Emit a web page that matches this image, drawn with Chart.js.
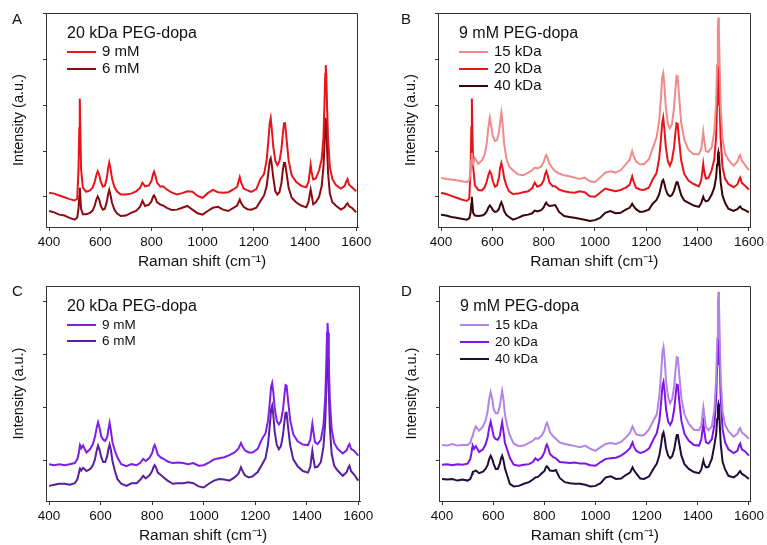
<!DOCTYPE html>
<html>
<head>
<meta charset="utf-8">
<script src="https://cdn.jsdelivr.net/npm/chart.js@4.4.1/dist/chart.umd.min.js"></script>
<style>
body { margin: 0; background: #fff; width: 767px; height: 545px; overflow: hidden; position: relative; font-family: "Liberation Sans", Arial, sans-serif; }
.panel { position: absolute; }
.letter { position: absolute; font-size: 15px; line-height: 17px; color: #111; }
</style>
</head>
<body>
<div class="panel" style="left:0;top:0"><canvas id="chartA" width="383" height="272"></canvas></div>
<div class="panel" style="left:384px;top:0"><canvas id="chartB" width="383" height="272"></canvas></div>
<div class="panel" style="left:0;top:273px"><canvas id="chartC" width="383" height="272"></canvas></div>
<div class="panel" style="left:384px;top:273px"><canvas id="chartD" width="383" height="272"></canvas></div>
<div class="letter" style="left:12px;top:10px">A</div>
<div class="letter" style="left:401px;top:10px">B</div>
<div class="letter" style="left:12px;top:282px">C</div>
<div class="letter" style="left:401px;top:282px">D</div>
<script>
// Raman shift positions (cm-1) shared by all spectra, denser around the bands
var ramanShift = [400,420,440,460,480,500,510,515,518,520,522,525,532,
  545,560,570,578,584,590,596,602,610,618,626,630,635,640,646,655,665,680,
  700,720,740,755,765,775,790,800,806,810,815,822,835,845,
  860,880,900,920,940,960,980,1000,1020,1040,1060,1080,1100,
  1120,1135,1141,1145,1150,1160,1175,1190,1210,
  1225,1240,1250,1257,1262,1266,1270,1276,1284,1292,1300,1308,1314,1318,1322,1328,1336,1348,1365,1385,
  1405,1414,1419,1422,1425,1432,1442,
  1455,1465,1472,1476,1479,1481,1483,1486,1490,1497,1507,1520,
  1540,1555,1562,1566,1572,1585,1600];

var xTicks = [400,600,800,1000,1200,1400,1600];
var yTicksAB = [0,1,2,3,4];
var yTicksCD = [0,1,2,3];

// A: 20 kDa PEG-dopa
var a9mM = [0.09,0.07,0.03,-0.01,-0.05,-0.08,-0.04,0.60,1.50,2.15,1.50,0.62,0.20,
  0.11,0.14,0.20,0.32,0.46,0.56,0.48,0.33,0.22,0.24,0.42,0.60,0.75,0.62,0.40,0.22,0.12,0.05,
  0.05,0.07,0.12,0.19,0.31,0.23,0.25,0.35,0.49,0.55,0.47,0.31,0.22,0.23,
  0.16,0.09,0.05,0.08,0.12,0.11,0.02,-0.02,0.08,0.15,0.10,0.09,0.10,
  0.16,0.22,0.35,0.43,0.32,0.18,0.14,0.11,0.17,
  0.38,0.50,0.80,1.24,1.60,1.72,1.50,1.09,0.79,0.69,0.78,1.05,1.41,1.61,1.61,1.25,0.79,0.47,0.33,0.24,
  0.21,0.33,0.56,0.70,0.56,0.38,0.40,
  0.58,0.82,1.29,2.02,2.68,2.88,2.68,2.02,1.26,0.65,0.39,0.26,
  0.18,0.24,0.35,0.39,0.27,0.20,0.12];
var a6mM = [-0.31,-0.34,-0.39,-0.41,-0.46,-0.50,-0.45,-0.26,0.01,0.20,0.01,-0.26,-0.38,
  -0.38,-0.35,-0.30,-0.20,-0.07,0.01,-0.06,-0.20,-0.28,-0.26,-0.10,0.04,0.15,0.04,-0.13,-0.28,-0.36,-0.42,
  -0.41,-0.35,-0.31,-0.22,-0.09,-0.20,-0.17,-0.10,0.00,0.03,-0.02,-0.12,-0.17,-0.19,
  -0.24,-0.29,-0.28,-0.24,-0.20,-0.28,-0.36,-0.39,-0.31,-0.24,-0.22,-0.28,-0.31,
  -0.24,-0.19,-0.11,-0.06,-0.13,-0.22,-0.27,-0.28,-0.24,
  -0.10,0.03,0.23,0.54,0.78,0.84,0.71,0.42,0.12,0.05,0.10,0.31,0.61,0.74,0.74,0.51,0.20,-0.02,-0.12,-0.19,
  -0.23,-0.10,0.07,0.16,0.07,-0.16,-0.12,
  0.00,0.23,0.64,1.14,1.59,1.73,1.59,1.09,0.52,0.07,-0.12,-0.19,
  -0.28,-0.23,-0.16,-0.14,-0.20,-0.25,-0.34];

// B: 9 mM PEG-dopa
var b15kDa = [0.42,0.39,0.38,0.36,0.34,0.32,0.36,0.58,0.80,0.96,0.80,0.72,0.85,
  0.72,0.80,0.92,1.17,1.50,1.73,1.53,1.32,1.22,1.24,1.42,1.62,1.84,1.59,1.15,0.83,0.67,0.58,
  0.49,0.47,0.53,0.58,0.64,0.62,0.66,0.76,0.87,0.91,0.85,0.73,0.62,0.56,
  0.51,0.47,0.45,0.42,0.39,0.42,0.34,0.32,0.42,0.53,0.56,0.53,0.58,
  0.71,0.81,0.93,1.00,0.90,0.77,0.71,0.71,0.82,
  1.06,1.30,1.65,2.16,2.61,2.70,2.48,1.97,1.60,1.50,1.59,1.94,2.38,2.65,2.64,2.19,1.62,1.25,1.02,0.93,
  0.93,1.04,1.27,1.42,1.27,1.00,0.98,
  1.08,1.42,2.04,2.88,3.66,3.92,3.66,2.88,1.99,1.28,0.95,0.81,
  0.68,0.77,0.88,0.91,0.80,0.70,0.58];
var b20kDa = [0.09,0.06,0.02,-0.02,-0.06,-0.09,-0.04,0.62,1.52,2.15,1.52,0.66,0.25,
  0.15,0.14,0.21,0.33,0.47,0.56,0.49,0.34,0.22,0.25,0.43,0.63,0.74,0.62,0.41,0.24,0.12,0.06,
  0.07,0.10,0.12,0.19,0.31,0.22,0.26,0.36,0.50,0.56,0.48,0.32,0.23,0.23,
  0.16,0.12,0.10,0.09,0.12,0.10,0.01,0.00,0.09,0.18,0.15,0.12,0.15,
  0.20,0.26,0.38,0.45,0.34,0.20,0.16,0.15,0.20,
  0.38,0.52,0.83,1.25,1.61,1.73,1.51,1.10,0.78,0.68,0.80,1.07,1.42,1.61,1.60,1.24,0.80,0.50,0.35,0.28,
  0.23,0.36,0.58,0.72,0.58,0.40,0.41,
  0.58,0.82,1.29,2.02,2.68,2.88,2.68,2.02,1.26,0.66,0.40,0.28,
  0.21,0.27,0.38,0.42,0.31,0.24,0.16];
var b40kDa = [-0.39,-0.41,-0.44,-0.46,-0.48,-0.50,-0.47,-0.35,-0.15,0.00,-0.15,-0.35,-0.41,
  -0.42,-0.41,-0.38,-0.32,-0.24,-0.19,-0.23,-0.29,-0.33,-0.32,-0.26,-0.18,-0.12,-0.19,-0.31,-0.40,-0.44,-0.50,
  -0.46,-0.41,-0.39,-0.36,-0.30,-0.32,-0.29,-0.23,-0.16,-0.13,-0.17,-0.20,-0.19,-0.18,
  -0.33,-0.42,-0.44,-0.46,-0.48,-0.50,-0.53,-0.51,-0.46,-0.35,-0.31,-0.36,-0.35,
  -0.28,-0.24,-0.19,-0.15,-0.20,-0.27,-0.33,-0.32,-0.28,
  -0.15,-0.07,0.05,0.21,0.34,0.37,0.30,0.16,0.05,0.01,0.04,0.13,0.25,0.32,0.32,0.20,0.04,-0.08,-0.13,-0.19,
  -0.22,-0.14,-0.05,0.00,-0.05,-0.10,-0.08,
  0.05,0.20,0.42,0.70,0.92,0.98,0.92,0.65,0.32,0.03,-0.13,-0.26,
  -0.31,-0.27,-0.23,-0.21,-0.26,-0.29,-0.34];

// C: 20 kDa PEG-dopa
var c9mM = [-0.06,-0.08,-0.06,-0.08,-0.06,-0.04,0.04,0.14,0.24,0.30,0.28,0.24,0.29,
  0.16,0.23,0.32,0.45,0.61,0.73,0.62,0.47,0.40,0.38,0.46,0.59,0.72,0.57,0.35,0.20,0.07,-0.06,
  -0.10,-0.06,-0.08,-0.03,0.04,0.00,0.06,0.15,0.26,0.30,0.24,0.12,0.06,0.04,
  -0.01,-0.04,-0.03,-0.04,-0.06,-0.04,-0.09,-0.08,-0.03,0.03,0.05,0.07,0.11,
  0.16,0.23,0.30,0.34,0.28,0.20,0.16,0.16,0.23,
  0.40,0.52,0.76,1.11,1.40,1.47,1.32,0.99,0.75,0.69,0.75,0.97,1.26,1.43,1.42,1.13,0.77,0.50,0.37,0.31,
  0.30,0.40,0.59,0.70,0.59,0.36,0.32,
  0.40,0.67,1.17,1.82,2.42,2.60,2.42,1.82,1.15,0.59,0.34,0.23,
  0.14,0.20,0.29,0.32,0.23,0.19,0.10];
var c6mM = [-0.47,-0.45,-0.43,-0.43,-0.45,-0.42,-0.34,-0.24,-0.17,-0.14,-0.15,-0.18,-0.13,
  -0.19,-0.15,-0.08,0.03,0.18,0.29,0.21,0.08,-0.02,-0.02,0.10,0.22,0.31,0.21,0.00,-0.18,-0.34,-0.43,
  -0.47,-0.42,-0.42,-0.35,-0.28,-0.33,-0.27,-0.19,-0.11,-0.08,-0.12,-0.22,-0.27,-0.31,
  -0.37,-0.43,-0.42,-0.42,-0.40,-0.42,-0.48,-0.50,-0.43,-0.37,-0.34,-0.35,-0.37,
  -0.31,-0.24,-0.17,-0.12,-0.18,-0.27,-0.31,-0.29,-0.21,
  -0.08,0.05,0.31,0.68,0.97,1.04,0.89,0.55,0.30,0.22,0.28,0.49,0.75,0.91,0.91,0.63,0.29,0.03,-0.10,-0.19,
  -0.22,-0.11,0.08,0.19,0.08,-0.12,-0.11,
  -0.02,0.26,0.74,1.35,1.94,2.11,1.94,1.31,0.64,0.13,-0.09,-0.18,
  -0.28,-0.21,-0.12,-0.09,-0.19,-0.26,-0.37];

// D: 9 mM PEG-dopa
var d15kDa = [0.30,0.29,0.32,0.29,0.30,0.30,0.34,0.42,0.46,0.48,0.52,0.57,0.65,
  0.57,0.65,0.76,0.93,1.16,1.30,1.18,0.97,0.90,0.90,1.04,1.18,1.32,1.16,0.87,0.65,0.48,0.33,
  0.28,0.29,0.34,0.38,0.43,0.42,0.48,0.57,0.68,0.72,0.66,0.54,0.46,0.42,
  0.35,0.32,0.30,0.28,0.26,0.29,0.23,0.19,0.26,0.32,0.34,0.32,0.36,
  0.45,0.53,0.61,0.65,0.59,0.50,0.48,0.49,0.60,
  0.75,0.88,1.24,1.68,2.06,2.15,1.96,1.51,1.20,1.09,1.17,1.42,1.76,1.96,1.95,1.61,1.18,0.88,0.70,0.59,
  0.58,0.67,0.89,1.01,0.89,0.64,0.58,
  0.65,0.97,1.56,2.31,2.98,3.19,2.98,2.31,1.54,0.94,0.68,0.56,
  0.46,0.51,0.60,0.62,0.54,0.49,0.42];
var d20kDa = [-0.07,-0.06,-0.08,-0.06,-0.07,-0.05,0.03,0.15,0.25,0.29,0.27,0.23,0.28,
  0.17,0.22,0.31,0.44,0.62,0.74,0.61,0.46,0.41,0.40,0.47,0.60,0.73,0.56,0.34,0.21,0.06,-0.07,
  -0.09,-0.07,-0.06,-0.02,0.05,0.01,0.07,0.16,0.27,0.31,0.25,0.13,0.07,0.05,
  -0.02,-0.03,-0.04,-0.03,-0.05,-0.05,-0.08,-0.09,-0.02,0.04,0.05,0.06,0.10,
  0.17,0.24,0.31,0.35,0.27,0.19,0.15,0.17,0.24,
  0.39,0.53,0.77,1.12,1.42,1.49,1.33,0.98,0.74,0.68,0.76,0.98,1.27,1.44,1.43,1.12,0.76,0.51,0.38,0.30,
  0.29,0.41,0.60,0.71,0.58,0.35,0.33,
  0.41,0.68,1.18,1.83,2.44,2.62,2.44,1.83,1.16,0.60,0.35,0.22,
  0.15,0.19,0.30,0.33,0.22,0.18,0.10];
var d40kDa = [-0.34,-0.35,-0.34,-0.37,-0.35,-0.37,-0.34,-0.29,-0.24,-0.21,-0.20,-0.20,-0.18,
  -0.23,-0.20,-0.15,-0.08,0.03,0.10,0.04,-0.06,-0.15,-0.15,-0.05,0.04,0.10,0.02,-0.14,-0.28,-0.43,-0.48,
  -0.47,-0.43,-0.40,-0.35,-0.31,-0.30,-0.23,-0.19,-0.12,-0.10,-0.13,-0.18,-0.19,-0.17,
  -0.32,-0.40,-0.42,-0.43,-0.43,-0.45,-0.48,-0.47,-0.42,-0.31,-0.29,-0.34,-0.33,
  -0.26,-0.22,-0.16,-0.12,-0.17,-0.24,-0.33,-0.34,-0.29,
  -0.16,-0.05,0.11,0.32,0.50,0.54,0.45,0.24,0.10,0.05,0.09,0.22,0.39,0.49,0.49,0.32,0.10,-0.06,-0.15,-0.21,
  -0.23,-0.16,-0.05,0.01,-0.05,-0.12,-0.11,
  0.04,0.30,0.51,0.79,1.03,1.08,1.03,0.69,0.31,-0.01,-0.16,-0.28,
  -0.31,-0.26,-0.21,-0.19,-0.24,-0.28,-0.34];

var FONT = '"Liberation Sans", Arial, sans-serif';

function spectrum(label, values, color) {
    return {
        label: label,
        data: ramanShift.map(function(x, i) { return {x: x, y: values[i]}; }),
        borderColor: color,
        borderWidth: 2,
        pointRadius: 0,
        fill: false,
        tension: 0
    };
}

// legend drawn inside the plot + top/right frame lines
var insetLegend = {
    id: 'insetLegend',
    afterDraw: function(chart, args, opts) {
        var ctx = chart.ctx, a = chart.chartArea;
        ctx.save();
        ctx.strokeStyle = '#333';
        ctx.lineWidth = 1;
        ctx.beginPath();
        ctx.moveTo(Math.round(a.left) + 0.5, Math.round(a.top) + 0.5);
        ctx.lineTo(Math.round(a.right) - 0.5, Math.round(a.top) + 0.5);
        ctx.lineTo(Math.round(a.right) - 0.5, Math.round(a.bottom) + 0.5);
        ctx.stroke();

        ctx.textBaseline = 'middle';
        ctx.fillStyle = '#111';
        ctx.font = '16px ' + FONT;
        ctx.fillText(opts.title, a.left + 21, a.top + 21);
        ctx.font = opts.size + 'px ' + FONT;
        chart.data.datasets.forEach(function(ds, i) {
            var y = a.top + 39 + i * opts.gap;
            ctx.strokeStyle = ds.borderColor;
            ctx.lineWidth = 2;
            ctx.beginPath();
            ctx.moveTo(a.left + 21, y);
            ctx.lineTo(a.left + 50, y);
            ctx.stroke();
            ctx.fillText(ds.label, a.left + 56, y);
        });
        ctx.restore();
    }
};

function makePanel(id, datasets, legend, yMin, yMax, yTicks, pad) {
    return new Chart(document.getElementById(id), {
        type: 'line',
        data: { datasets: datasets },
        options: {
            responsive: false,
            animation: false,
            layout: { padding: pad },
            plugins: {
                legend: { display: false },
                tooltip: { enabled: false },
                insetLegend: legend
            },
            scales: {
                x: {
                    type: 'linear',
                    min: 388,
                    max: 1607,
                    afterBuildTicks: function(s) { s.ticks = xTicks.map(function(v) { return {value: v}; }); },
                    afterFit: function(s) { s.height = 44; },
                    ticks: {
                        color: '#111',
                        padding: 3,
                        maxRotation: 0,
                        font: { family: FONT, size: 13.5 },
                        callback: function(v) { return String(v); }
                    },
                    grid: { display: true, drawOnChartArea: false, drawTicks: true, tickLength: 4, color: '#333' },
                    border: { display: true, color: '#333', width: 1 },
                    title: {
                        display: true,
                        text: 'Raman shift (cm⁻¹)',
                        color: '#111',
                        padding: { top: 0, bottom: 0 },
                        font: { family: FONT, size: 15.5 }
                    }
                },
                y: {
                    type: 'linear',
                    min: yMin,
                    max: yMax,
                    afterBuildTicks: function(s) { s.ticks = yTicks.map(function(v) { return {value: v}; }); },
                    afterFit: function(s) { s.width = 36; },
                    ticks: { display: false },
                    grid: { display: true, drawOnChartArea: false, drawTicks: true, tickLength: 3, color: '#333' },
                    border: { display: true, color: '#333', width: 1 },
                    title: {
                        display: true,
                        text: 'Intensity (a.u.)',
                        color: '#111',
                        padding: { top: 0, bottom: 0 },
                        font: { family: FONT, size: 14.5 }
                    }
                }
            }
        },
        plugins: [insetLegend]
    });
}

makePanel('chartA', [
    spectrum('9 mM', a9mM, '#e8141c'),
    spectrum('6 mM', a6mM, '#8c0a12')
], { title: '20 kDa PEG-dopa', size: 15, gap: 17 }, -0.66, 4.02, yTicksAB, { left: 10, right: 25, top: 13, bottom: 1 });

makePanel('chartB', [
    spectrum('15 kDa', b15kDa, '#f28a8a'),
    spectrum('20 kDa', b20kDa, '#e8141c'),
    spectrum('40 kDa', b40kDa, '#3a0508')
], { title: '9 mM PEG-dopa', size: 15, gap: 17 }, -0.66, 4.02, yTicksAB, { left: 18, right: 16, top: 13, bottom: 1 });

makePanel('chartC', [
    spectrum('9 mM', c9mM, '#7f1ee6'),
    spectrum('6 mM', c6mM, '#5a1f9e')
], { title: '20 kDa PEG-dopa', size: 13.5, gap: 16 }, -0.755, 3.30, yTicksCD, { left: 10, right: 23, top: 13, bottom: 0 });

makePanel('chartD', [
    spectrum('15 kDa', d15kDa, '#b383e6'),
    spectrum('20 kDa', d20kDa, '#7f14e6'),
    spectrum('40 kDa', d40kDa, '#1f0d3a')
], { title: '9 mM PEG-dopa', size: 13.5, gap: 17 }, -0.755, 3.30, yTicksCD, { left: 19, right: 15, top: 13, bottom: 0 });
</script>
</body>
</html>
